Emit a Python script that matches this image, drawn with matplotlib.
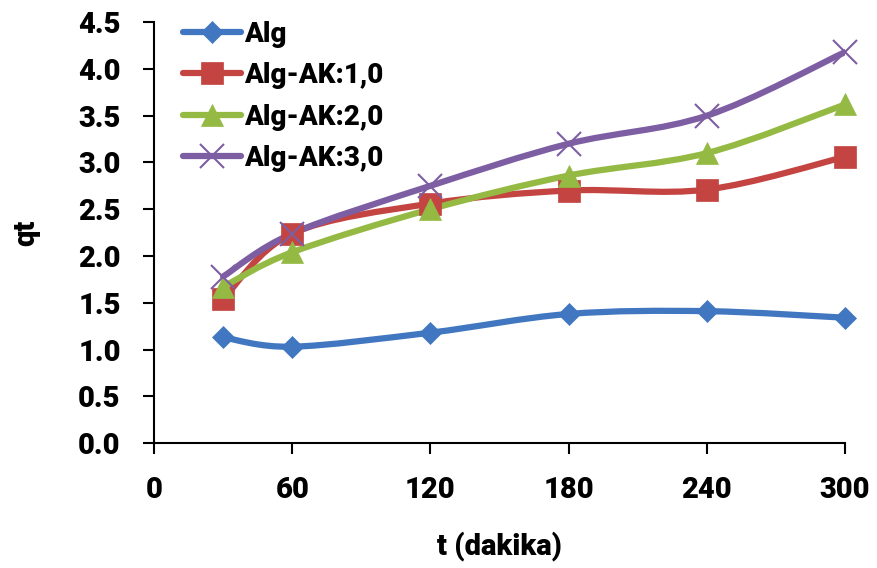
import matplotlib
matplotlib.use("Agg")
import matplotlib.pyplot as plt
import numpy as np
from matplotlib.path import Path
from matplotlib.patches import PathPatch

plt.rcParams['font.family'] = ['Roboto', 'DejaVu Sans']
plt.rcParams['font.weight'] = 'black'
plt.rcParams['axes.labelweight'] = 'black'

# time (minutes) and qt values
t = [30, 60, 120, 180, 240, 300]
alg = [1.13, 1.03, 1.18, 1.38, 1.41, 1.34]
ak1 = [1.54, 2.24, 2.56, 2.70, 2.71, 3.06]
ak2 = [1.67, 2.04, 2.50, 2.86, 3.10, 3.62]
ak3 = [1.78, 2.24, 2.75, 3.20, 3.50, 4.18]

names = ['Alg', 'Alg-AK:1,0', 'Alg-AK:2,0', 'Alg-AK:3,0']
colors = ['#4177C0', '#C44441', '#94BA44', '#7E5EA3']
markers = ['D', 's', '^', 'x']
msizes = [11, 16, 16, 17]


def smooth_path(x, y):
    # Excel-like smoothed line: cubic bezier with Catmull-Rom control points
    x = np.asarray(x, float)
    y = np.asarray(y, float)
    verts = [(x[0], y[0])]
    codes = [Path.MOVETO]
    n = len(x)
    for i in range(n - 1):
        x0, y0 = (x[i - 1], y[i - 1]) if i > 0 else (x[i], y[i])
        x3, y3 = (x[i + 2], y[i + 2]) if i + 2 < n else (x[i + 1], y[i + 1])
        c1 = (x[i] + (x[i + 1] - x0) / 6, y[i] + (y[i + 1] - y0) / 6)
        c2 = (x[i + 1] - (x3 - x[i]) / 6, y[i + 1] - (y3 - y[i]) / 6)
        verts += [c1, c2, (x[i + 1], y[i + 1])]
        codes += [Path.CURVE4] * 3
    return Path(verts, codes)


fig = plt.figure(figsize=(8.77, 5.68), dpi=100)
ax = fig.add_axes([0.1756, 0.22, 0.788, 0.741])

for ys, name, c, m, ms in zip([alg, ak1, ak2, ak3], names, colors, markers, msizes):
    ax.add_patch(PathPatch(smooth_path(t, ys), facecolor='none', edgecolor=c,
                           lw=4.5, capstyle='round', joinstyle='round', zorder=2))
    mew = 1.5 if m == 'x' else 0.5
    ax.plot(t, ys, linestyle='none', marker=m, markersize=ms, color=c,
            markeredgecolor=c, markeredgewidth=mew, zorder=3, clip_on=False)
    # proxy for legend (line + marker)
    ax.plot([], [], color=c, lw=4.5, marker=m, markersize=ms,
            markeredgewidth=mew, label=name, solid_capstyle='round')

ax.set_xlim(0, 300)
ax.set_ylim(0, 4.5)
ax.set_xticks(np.arange(0, 301, 60))
ax.set_yticks(np.arange(0, 4.51, 0.5))
ax.set_yticklabels([f'{v:.1f}' for v in np.arange(0, 4.51, 0.5)])
for s in ['top', 'right']:
    ax.spines[s].set_visible(False)
for s in ['left', 'bottom']:
    ax.spines[s].set_linewidth(1.5)
ax.tick_params(direction='out', length=8, width=1.5, labelsize=21, pad=16)
ax.set_xlabel('t (dakika)', fontsize=21)
ax.set_ylabel('qt', fontsize=21)
ax.xaxis.set_label_coords(0.5, -0.21)
ax.yaxis.set_label_coords(-0.165, 0.5)

leg = ax.legend(loc='upper left', bbox_to_anchor=(0.026, 1.03), frameon=False,
                fontsize=20, handlelength=2.1, handletextpad=0.1,
                labelspacing=0.52, borderaxespad=0)

fig.savefig('out.png', dpi=100)
